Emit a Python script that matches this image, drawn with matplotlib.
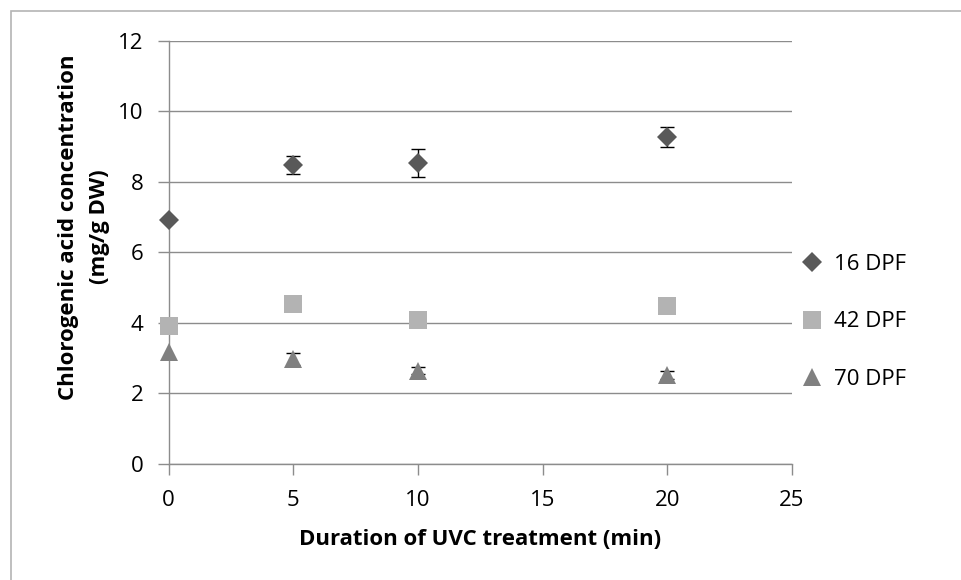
import matplotlib
matplotlib.use("Agg")
import matplotlib.pyplot as plt
from matplotlib.patches import Rectangle

plt.rcParams['font.family'] = ['Open Sans', 'DejaVu Sans']

durations = [0, 5, 10, 20]
series_names = ["16 DPF", "42 DPF", "70 DPF"]
dpf16 = [6.92, 8.47, 8.54, 9.27]
dpf16_err = [0.0, 0.25, 0.39, 0.28]
dpf42 = [3.90, 4.54, 4.08, 4.48]
dpf42_err = [0.0, 0.0, 0.0, 0.0]
dpf70 = [3.17, 2.97, 2.64, 2.51]
dpf70_err = [0.0, 0.17, 0.09, 0.12]
x_ticks = [0, 5, 10, 15, 20, 25]
y_ticks = [0, 2, 4, 6, 8, 10, 12]

W, H = 961, 580
fig = plt.figure(figsize=(W / 100, H / 100), dpi=100)
ax = fig.add_axes([168.5 / W, 1 - 463.5 / H, (792 - 168.5) / W, (463.5 - 41) / H])

# outer chart border
fig.patches.append(Rectangle((11 / W, -0.1), 2.0, 1 - 11 / H + 0.1, transform=fig.transFigure,
                             fill=False, edgecolor='#b4b4b4', linewidth=1.2))

styles = [
    dict(marker='D', color='#595959', ms=10),
    dict(marker='s', color='#b3b3b3', ms=13),
    dict(marker='^', color='#808080', ms=13),
]
for name, vals, errs, st in zip(series_names, [dpf16, dpf42, dpf70],
                                [dpf16_err, dpf42_err, dpf70_err], styles):
    ax.errorbar(durations, vals, yerr=[e if e > 0 else float('nan') for e in errs],
                fmt='none', ecolor='black', elinewidth=1, capsize=5, capthick=1, zorder=3)
    ax.plot(durations, vals, linestyle='none', marker=st['marker'], color=st['color'],
            markersize=st['ms'], markeredgewidth=0, label=name, zorder=4, clip_on=False)

ax.set_xlim(0, 25)
ax.set_ylim(0, 12)
ax.set_xticks(x_ticks)
ax.set_yticks(y_ticks)
ax.yaxis.grid(True, color='#8c8c8c', linewidth=1)
ax.set_axisbelow(True)
for s in ['top', 'right']:
    ax.spines[s].set_visible(False)
for s in ['left', 'bottom']:
    ax.spines[s].set_color('#8c8c8c')
    ax.spines[s].set_linewidth(1)
ax.tick_params(axis='both', colors='#8c8c8c', length=8, width=1, labelcolor='black',
               labelsize=16)
ax.tick_params(axis='x', pad=11)
ax.tick_params(axis='y', pad=10)

ax.set_xlabel("Duration of UVC treatment (min)", fontsize=16, fontweight='bold', labelpad=13)
ax.set_ylabel("Chlorogenic acid concentration\n(mg/g DW)", fontsize=16, fontweight='bold',
              labelpad=6, linespacing=1.6)
ax.yaxis.label.set_y(0.56)

leg = ax.legend(loc='center left', bbox_to_anchor=(1.0, 0.335), frameon=False, fontsize=16,
                handletextpad=0.6, labelspacing=1.65, handlelength=0.8, borderaxespad=0.1)

fig.savefig("out.png", dpi=100)
